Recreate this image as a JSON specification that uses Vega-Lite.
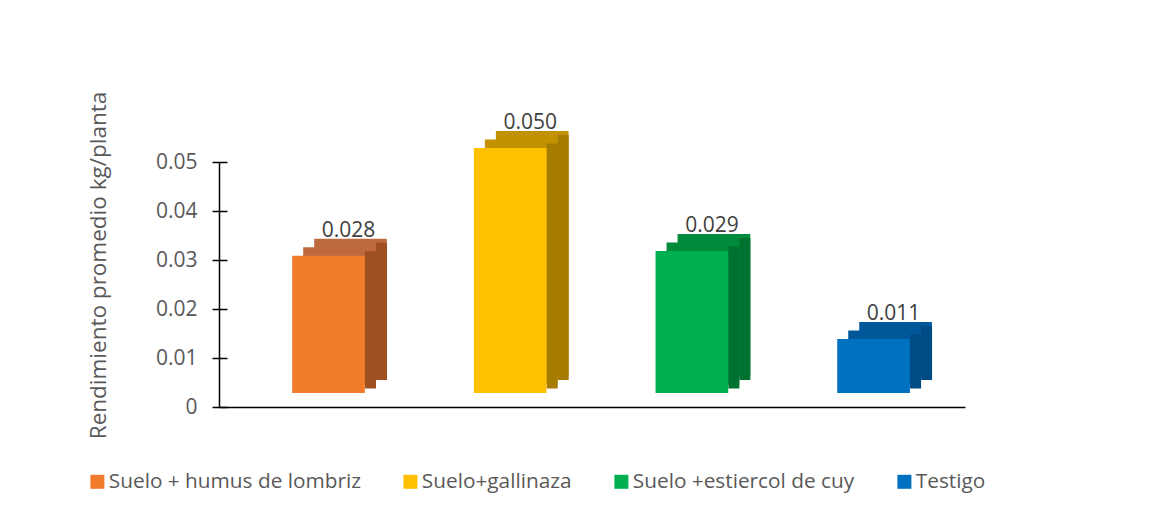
{
  "$schema": "https://vega.github.io/schema/vega-lite/v6.json",
  "autosize": {"type": "none"},
  "padding": {"left": 219, "top": 162, "right": 199, "bottom": 108},
  "width": 746,
  "height": 245,
  "background": "white",
  "config": {"view": {"stroke": null}, "font": "Open Sans"},
  "data": {
    "values": [
      {"trat": "Suelo + humus de lombriz", "valor": 0.028},
      {"trat": "Suelo+gallinaza", "valor": 0.050},
      {"trat": "Suelo +estiercol de cuy", "valor": 0.029},
      {"trat": "Testigo", "valor": 0.011}
    ]
  },
  "encoding": {
    "x": {
      "field": "trat", "type": "nominal", "sort": null,
      "scale": {"paddingInner": 0, "paddingOuter": 0.053, "align": 0.97},
      "axis": {"title": null, "labels": false, "ticks": false, "domainColor": "#000000", "domainWidth": 1.5}
    }
  },
  "layer": [
    {
      "mark": {"type": "bar", "width": {"band": 0.4}, "xOffset": 22, "yOffset": -31, "y2Offset": -31},
      "encoding": {
        "y": {"field": "valor", "type": "quantitative", "scale": {"domain": [0, 0.05], "nice": false}, "axis": null},
        "color": {
          "field": "trat", "type": "nominal", "sort": null, "legend": null,
          "scale": {"domain": ["Suelo + humus de lombriz", "Suelo+gallinaza", "Suelo +estiercol de cuy", "Testigo"],
                    "range": ["#BE6A3E", "#C29100", "#008A3C", "#00589A"]}
        }
      }
    },
    {
      "mark": {"type": "bar", "width": {"band": 0.4}, "xOffset": 11, "yOffset": -22.5, "y2Offset": -22.5},
      "encoding": {
        "y": {"field": "valor", "type": "quantitative", "scale": {"domain": [0, 0.05], "nice": false}, "axis": null},
        "color": {
          "field": "trat", "type": "nominal", "sort": null, "legend": null,
          "scale": {"domain": ["Suelo + humus de lombriz", "Suelo+gallinaza", "Suelo +estiercol de cuy", "Testigo"],
                    "range": ["#BE6A3E", "#C29100", "#008A3C", "#00589A"]}
        }
      }
    },
    {
      "mark": {"type": "bar", "width": {"band": 0.0605}, "xOffset": 42, "yOffset": -18.5, "y2Offset": -18.5},
      "encoding": {
        "y": {"field": "valor", "type": "quantitative", "scale": {"domain": [0, 0.05], "nice": false}, "axis": null},
        "color": {
          "field": "trat", "type": "nominal", "sort": null, "legend": null,
          "scale": {"domain": ["Suelo + humus de lombriz", "Suelo+gallinaza", "Suelo +estiercol de cuy", "Testigo"],
                    "range": ["#9E5020", "#A67C00", "#00722F", "#004B84"]}
        }
      }
    },
    {
      "mark": {"type": "bar", "width": {"band": 0.0605}, "xOffset": 53, "yOffset": -27, "y2Offset": -27},
      "encoding": {
        "y": {"field": "valor", "type": "quantitative", "scale": {"domain": [0, 0.05], "nice": false}, "axis": null},
        "color": {
          "field": "trat", "type": "nominal", "sort": null, "legend": null,
          "scale": {"domain": ["Suelo + humus de lombriz", "Suelo+gallinaza", "Suelo +estiercol de cuy", "Testigo"],
                    "range": ["#9E5020", "#A67C00", "#00722F", "#004B84"]}
        }
      }
    },
    {
      "mark": {"type": "bar", "width": {"band": 0.4}, "yOffset": -14, "y2Offset": -14},
      "encoding": {
        "y": {
          "field": "valor", "type": "quantitative", "scale": {"domain": [0, 0.05], "nice": false},
          "axis": {
            "orient": "left", "values": [0, 0.01, 0.02, 0.03, 0.04, 0.05], "format": "~g", "grid": false,
            "tickSize": 7, "tickColor": "#000000", "tickWidth": 1.5,
            "domainColor": "#000000", "domainWidth": 1.5,
            "labelFont": "Open Sans", "labelFontSize": 21, "labelColor": "#595959", "labelPadding": 15,
            "title": "Rendimiento promedio kg/planta", "titleFont": "Open Sans", "titleFontSize": 22.5,
            "titleFontWeight": "normal", "titleColor": "#595959", "titleX": -121, "titleY": 103,
            "titleAngle": 270, "titleAlign": "center", "titleBaseline": "middle"
          }
        },
        "color": {
          "field": "trat", "type": "nominal", "sort": null,
          "scale": {"domain": ["Suelo + humus de lombriz", "Suelo+gallinaza", "Suelo +estiercol de cuy", "Testigo"],
                    "range": ["#F27C2C", "#FFC000", "#00B050", "#0070C0"]},
          "legend": {
            "orient": "none", "legendX": -132, "legendY": 309, "direction": "horizontal", "title": null,
            "symbolType": "square", "symbolSize": 196, "symbolStrokeWidth": 0,
            "labelFont": "Open Sans", "labelFontSize": 20.8, "labelColor": "#595959", "labelLimit": 400,
            "labelOffset": 1, "columnPadding": 39, "padding": 0
          }
        }
      }
    },
    {
      "mark": {"type": "text", "dx": 20, "dy": -33, "baseline": "alphabetic", "align": "center",
               "font": "Open Sans", "fontSize": 21, "color": "#404040"},
      "encoding": {
        "y": {
          "field": "valor", "type": "quantitative", "scale": {"domain": [0, 0.05], "nice": false},
          "axis": {"orient": "left", "offset": -8, "tickSize": 8, "labels": false, "domain": false, "title": null,
                   "grid": false, "tickColor": "#000000", "tickWidth": 1.5, "values": [0, 0.01, 0.02, 0.03, 0.04, 0.05]}
        },
        "text": {"field": "valor", "type": "quantitative", "format": ".3f"}
      }
    }
  ],
  "resolve": {"scale": {"color": "independent"}, "axis": {"y": "independent"}}
}
